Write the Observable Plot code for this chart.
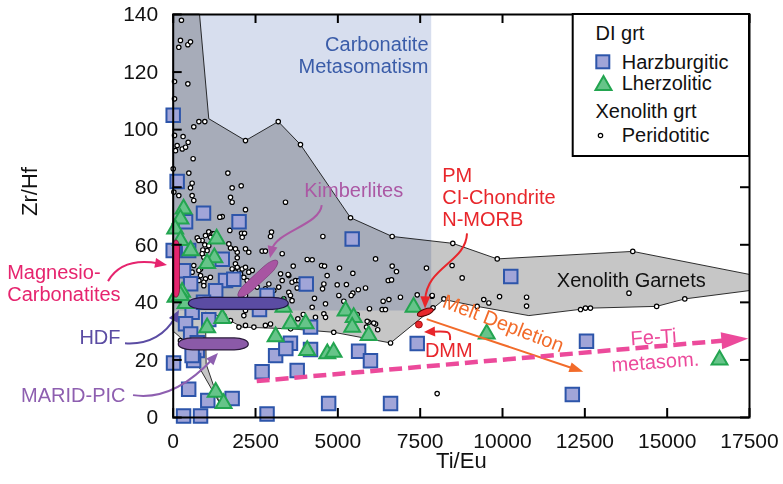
<!DOCTYPE html>
<html><head><meta charset="utf-8">
<script src="https://cdn.jsdelivr.net/npm/d3@7"></script>
<script src="https://cdn.jsdelivr.net/npm/@observablehq/plot@0.6"></script>
<style>
body{margin:0;background:#fff;font-family:"Liberation Sans",Arial,sans-serif;}
#wrap{position:relative;width:783px;height:484px;}
#legend{position:absolute;left:0;top:0;pointer-events:none;}
</style></head><body><div id="wrap"></div>
<script>
// ---------------- data ----------------
const xTicks = [0, 2500, 5000, 7500, 10000, 12500, 15000, 17500];
const yTicks = [0, 20, 40, 60, 80, 100, 120, 140];

// DI garnets, harzburgitic [Ti/Eu, Zr/Hf]
const harzburgitic = [
 [0,105],[120,82],[920,71],[2000,68],[5435,62],[375,68],[0,58],[470,58],[1490,55],[315,51],
 [530,46.5],[1590,47.6],[1840,48],[1290,44],[4040,46.4],[2850,42.4],[2620,37.5],[575,36.6],[920,40],
 [375,32.6],[1080,34],[4170,31.4],[530,29],[730,26],[730,23.3],[620,19.8],[10,18.9],[575,21.5],
 [3560,25.8],[3110,21.5],[3420,24],[2700,15.9],[3765,16.3],[4170,23.6],[5630,23],[5990,19.7],
 [470,9.8],[1050,5.9],[1790,6.6],[315,0.5],[830,0.5],[2850,1.2],[4720,4.9],[6600,4.9],
 [10250,49],[12550,26.5],[7410,25.7],[12120,8]
];
// DI garnets, lherzolitic
const lherzolitic = [
 [315,72.5],[220,69],[60,65.5],[220,61.5],[1320,62],[530,58],[1250,55.5],[1030,53.5],[270,43.5],
 [70,41.8],[375,39.6],[220,42.4],[3350,38.3],[5235,37],[5480,34.8],[5435,31.4],[5935,28.5],
 [3565,32.6],[4020,32.6],[1030,31.2],[3110,28.1],[4070,23.3],[4680,22.2],[4870,22.7],[1490,34.4],
 [7300,38.3],[9520,29],[16590,20],[1290,8.8],[1530,4.9]
];
// Xenolith garnets, peridotitic
const peridotitic = [
 [250,138],[220,131],[445,129.5],[525,130.5],[170,128.6],[40,116.7],[445,115.9],[40,110.7],[780,102.8],
 [960,102.8],[625,101],[40,98],[300,97.6],[120,94.5],[275,93.3],[375,93.9],[455,95.6],[70,92.7],[605,89.9],
 [0,86.4],[475,84.9],[1660,84.9],[575,81.4],[525,79.8],[1790,79.8],[2065,80.5],[20,78.3],[170,77.1],
 [575,77.1],[625,75.4],[1740,76.5],[1790,74.8],[3410,74.8],[2195,72.2],[1490,69.8],[1415,69.6],[1720,65],
 [2075,64],[2165,64],[2095,62.6],[2985,64.4],[2955,62.9],[1080,64.5],[1185,63.8],[980,63.2],[730,62.4],
 [880,61.5],[780,61.5],[960,60],[1080,59.7],[1030,58],[900,58.2],[1740,58.9],[1945,57.4],[2195,58.6],
 [2295,57.4],[2700,57.8],[2800,57.8],[3310,56.9],[1945,55.5],[1135,62.6],[1235,63.8],[1690,60.3],[1890,58.6],
 [930,55.7],[1030,53.9],[625,52.8],[830,51.6],[575,50.5],[830,49.3],[980,48.2],[930,47],[1130,48.7],
 [1890,53.4],[2095,51.6],[2195,52.2],[2400,51.1],[2245,47.6],[2450,47.6],[2550,45.3],[2095,43.5],
 [2195,42.4],[2800,44.7],[2905,46.4],[3055,44.1],[3205,45.3],[3310,47.6],[3260,49.9],[3510,49.3],
 [3610,47],[3510,43.5],[3560,42.4],[3360,41.2],[2955,41.2],[880,56.9],[1080,52.8],[780,51.1],[780,47.6],
 [930,45.8],[1790,51.6],[1945,52.2],[1890,50.5],[2045,49.9],[2295,50.5],[2145,48.7],[2245,45],[2400,45.8],
 [1535,35.4],[1995,31.4],[2195,32],[2450,31.4],[2800,32],[2955,32.5],[1740,33.7],[2145,35.4],[2195,37.2],
 [4545,62.9],[4070,54.9],[4220,54.8],[3645,52.6],[4505,52.8],[4595,52.6],[5050,51.9],[6145,55.1],
 [6650,52.6],[6780,50.7],[7690,51.9],[4675,49.3],[5455,50.1],[3490,49.7],[6530,47.6],[6630,47.8],
 [4575,46.4],[4535,44.7],[4980,46.1],[5260,46.2],[5840,45],[5620,44.4],[5455,43.2],[5405,42.4],
 [5030,42.4],[4290,41.4],[3610,40.6],[6900,41.8],[6550,41],[6375,40.4],[7410,42.6],[7860,42.1],
 [4625,39.5],[4220,38.3],[5960,37.8],[6345,37.5],[6445,37.5],[5180,40.4],[4575,36],[4625,34.8],
 [4320,34.8],[5585,35.8],[3950,35.8],[3785,34.3],[5940,33.1],[6145,32.5],[3715,47.6],[3765,45],
 [3815,47.6],[5890,33.4],[6090,32.8],[6210,30.5],[5870,31.4],[8015,8.3],
 [8470,52.8],[8775,48.5],[7865,42.4],[8220,41.2],[7890,38.1],[9430,41],[9585,39.8],[9910,42],
 [10730,41.8],[10730,38.7],[12370,37.5],[12520,38],[12670,38],[13840,43.2],[14680,38.6],[15535,41.2],
 [8490,60.5],[9840,55.1],[13955,57.7],[9230,38.6],[4875,29.6],[6600,25.9],[220,26.7],[5385,69.4],
 [6650,62.9],[2195,96.2],[3190,102.8],[3865,94.8],[3565,30.8]
];
// outline of the "Xenolith Garnets" field
const xenolithField = [
 [800,140],[1080,103.8],[2195,96.2],[3190,102.8],[3865,94.8],[5385,69.4],[6650,62.9],[8490,60.5],
 [9840,55.1],[13955,57.7],[17500,49.7],[17500,44.1],[15535,41.2],[14680,38.6],[12670,38],[10800,35.4],
 [9230,38.6],[8220,41],[6600,25.9],[4875,29.6],[3565,30.8],[2095,31.4],[1535,34.8],[980,36.6],
 [1000,18.6],[1400,5.2],[730,18.6],[200,28],[0,30],[0,140]
];
// carbonatite metasomatism field
const carbonatiteField = [{x1: 0, x2: 7850, y1: 37, y2: 140}];
// reference compositions (long axis end points)
const references = [
 {name: "magnesio", x1: 100, y1: 41.6, x2: 100, y2: 61.5},
 {name: "kimberlites", x1: 1993, y1: 41.8, x2: 3177, y2: 54.3},
 {name: "hdf", x1: 475, y1: 39.5, x2: 3510, y2: 39.5},
 {name: "marid", x1: 170, y1: 25.4, x2: 2295, y2: 25.4},
 {name: "pm", x1: 7430, y1: 35.4, x2: 7915, y2: 37.4}
];
const dmm = [[7460, 32.3]];
// annotation arrows: start, control 1, control 2, end
const arrows = [
 {name: "kimberlites", pts: [[4525,73.6],[4473,66.7],[3107,63.2],[2955,55.2]]},
 {name: "magnesio", pts: [[-1964,47.2],[-1661,53.1],[-993,54.5],[-173,52.8]]},
 {name: "hdf", pts: [[-1448,25.6],[-686,25.0],[-140,30.2],[191,37.2]]},
 {name: "marid", pts: [[-1205,7.6],[-234,5.9],[677,13.6],[1376,22.2]]},
 {name: "pm", pts: [[8937,63.8],[8907,53.7],[7692,50.9],[7662,37.7]]},
 {name: "dmm", pts: [[8421,26.7],[8451,29.9],[8269,29.9],[7631,29.5]]},
 {name: "melt", pts: [[7713,34.0],[7713,34.0],[12468,15.7],[12468,15.7]]},
 {name: "feti", pts: [[2551,12.5],[2551,12.5],[17480,27.3],[17480,27.3]]}
];
const labels = [
 {name: "carb", text: "Carbonatite\nMetasomatism", x: 7753, y: 126.1},
 {name: "kimb", text: "Kimberlites", x: 5480, y: 78.8},
 {name: "pm", text: "PM\nCI-Chondrite\nN-MORB", x: 8169, y: 76.7},
 {name: "xeno", text: "Xenolith Garnets", x: 13911, y: 47.6},
 {name: "melt", text: "Melt Depletion", x: 10020, y: 32.6},
 {name: "dmm", text: "DMM", x: 8369, y: 23.3},
 {name: "feti", text: "Fe-Ti\nmetasom.", x: 14610, y: 24.1},
 {name: "magnesio", text: "Magnesio-\nCarbonatites", x: -5041, y: 46.7},
 {name: "hdf", text: "HDF", x: -1600, y: 27.7},
 {name: "marid", text: "MARID-PIC", x: -1449, y: 7.6}
];

// ---------------- styles ----------------
const C = {
  magnesio: "#e6246e", kimb: "#ab58a4", hdf: "#5b4ca3", marid: "#8e5fb0", red: "#e8262b",
  melt: "#f26b2a", feti: "#ec4a9b", carb: "#3a5ca8"
};
const blobStyle = {
  magnesio: {t: 7, fill: C.magnesio, stroke: "#7a1030", sw: 0.8, round: 8},
  kimberlites: {t: 10, fill: "#a855a2", stroke: "#6a2a66", sw: 0.5, round: 14},
  hdf: {t: 12, fill: C.hdf, stroke: "#1e1640", sw: 1.2, round: 16},
  marid: {t: 12, fill: "#8b5aa8", stroke: "#2a1a3a", sw: 1.2, round: 14},
  pm: {t: 6.5, fill: C.red, stroke: "#5a0000", sw: 1, round: 99}
};
const arrowStyle = {
  kimberlites: {color: C.kimb, w: 2, head: 12, hw: 5},
  magnesio: {color: C.magnesio, w: 2, head: 12, hw: 5},
  hdf: {color: C.hdf, w: 2, head: 12, hw: 5},
  marid: {color: C.marid, w: 2, head: 12, hw: 5},
  pm: {color: C.red, w: 2, head: 12, hw: 5},
  dmm: {color: C.red, w: 2, head: 11, hw: 5},
  melt: {color: C.melt, w: 2, head: 14, hw: 5},
  feti: {color: C.feti, w: 4.5, head: 27, hw: 8.5, dash: "13,6"}
};
const labelStyle = {
  carb: {fill: C.carb, anchor: "end", lh: 1.1},
  kimb: {fill: C.kimb, anchor: "middle"},
  pm: {fill: C.red, anchor: "start", lh: 1.115},
  xeno: {fill: "#111", anchor: "middle"},
  melt: {fill: C.melt, anchor: "middle", rotate: 21},
  dmm: {fill: C.red, anchor: "middle"},
  feti: {fill: C.feti, anchor: "middle", rotate: -4, lh: 1.25},
  magnesio: {fill: C.magnesio, anchor: "start", lh: 1.08},
  hdf: {fill: C.hdf, anchor: "end"},
  marid: {fill: C.marid, anchor: "end"}
};

// ---------------- custom render helpers ----------------
function blobMark(items) {
  return (index, scales) => {
    const g = d3.create("svg:g");
    for (const b of items) {
      const s = blobStyle[b.name];
      const x1 = scales.x(b.x1), y1 = scales.y(b.y1), x2 = scales.x(b.x2), y2 = scales.y(b.y2);
      const len = Math.hypot(x2 - x1, y2 - y1), ang = Math.atan2(y2 - y1, x2 - x1) * 180 / Math.PI;
      const cx = (x1 + x2) / 2, cy = (y1 + y2) / 2;
      g.append("rect").attr("x", cx - len / 2).attr("y", cy - s.t / 2)
        .attr("width", len).attr("height", s.t)
        .attr("rx", Math.min(len / 2, s.round)).attr("ry", s.t / 2)
        .attr("transform", `rotate(${ang} ${cx} ${cy})`)
        .attr("fill", s.fill).attr("stroke", s.stroke).attr("stroke-width", s.sw);
    }
    return g.node();
  };
}
function arrowMark(items) {
  return (index, scales) => {
    const g = d3.create("svg:g");
    for (const a of items) {
      const s = arrowStyle[a.name];
      const p = a.pts.map(([x, y]) => [scales.x(x), scales.y(y)]);
      let dx = p[3][0] - p[2][0], dy = p[3][1] - p[2][1];
      if (Math.hypot(dx, dy) < 1) { dx = p[3][0] - p[0][0]; dy = p[3][1] - p[0][1]; }
      const L = Math.hypot(dx, dy); dx /= L; dy /= L;
      const base = [p[3][0] - dx * s.head, p[3][1] - dy * s.head];
      const end = [p[3][0] - dx * s.head * 0.7, p[3][1] - dy * s.head * 0.7];
      const c2 = [p[2][0] - dx * s.head * 0.3, p[2][1] - dy * s.head * 0.3];
      g.append("path").attr("d", `M${p[0]}C${p[1]} ${c2} ${end}`)
        .attr("fill", "none").attr("stroke", s.color).attr("stroke-width", s.w)
        .attr("stroke-dasharray", s.dash || null);
      g.append("path").attr("d",
        `M${p[3]}L${base[0] - dy * s.hw},${base[1] + dx * s.hw}L${base[0] + dy * s.hw},${base[1] - dx * s.hw}Z`)
        .attr("fill", s.color);
    }
    return g.node();
  };
}

const FONT = "Liberation Sans, Arial, Helvetica, sans-serif";
const plotH = 484 - 14 - 67, plotW = 783 - 172.7 - 34;

const labelMarks = labels.map(l => {
  const s = labelStyle[l.name];
  return Plot.text([l], {x: "x", y: "y", text: "text", fill: s.fill, textAnchor: s.anchor,
    rotate: s.rotate || 0, lineHeight: s.lh || 1, fontSize: 20, fontFamily: FONT});
});

const chart = Plot.plot({
  width: 783, height: 484,
  marginLeft: 172.7, marginRight: 34, marginTop: 14, marginBottom: 67,
  x: {domain: [0, 17500], axis: null},
  y: {domain: [0, 140], axis: null},
  style: {fontFamily: FONT, background: "white", overflow: "visible"},
  marks: [
    Plot.rect(carbonatiteField, {x1: "x1", x2: "x2", y1: "y1", y2: "y2", fill: "#d7deee"}),
    Plot.line(xenolithField, {x: d => d[0], y: d => d[1], curve: "linear-closed", fill: "#c6c6c6",
      stroke: "#1a1a1a", strokeWidth: 0.9, mixBlendMode: "multiply"}),
    Plot.dot(peridotitic, {x: d => d[0], y: d => d[1], r: 2.2, fill: "white", stroke: "#000", strokeWidth: 1.2}),
    Plot.dot(harzburgitic, {x: d => d[0], y: d => d[1], symbol: "square", r: 7.6,
      fill: "#a1a5d8", stroke: "#2d55aa", strokeWidth: 2}),
    Plot.dot(lherzolitic, {x: d => d[0], y: d => d[1], symbol: "triangle", r: 5.9,
      fill: "#66c489", stroke: "#23a550", strokeWidth: 2}),
    blobMark(references),
    Plot.dot(dmm, {x: d => d[0], y: d => d[1], r: 3.5, fill: C.red, stroke: "#900", strokeWidth: 0.8}),
    arrowMark(arrows),
    ...labelMarks,
    Plot.frame({stroke: "#000", strokeWidth: 2}),
    Plot.ruleX(xTicks, {x: d => d, insetTop: plotH - 9, stroke: "#000", strokeWidth: 2}),
    Plot.ruleX(xTicks, {x: d => d, insetBottom: plotH - 9, stroke: "#000", strokeWidth: 2}),
    Plot.ruleY(yTicks, {y: d => d, insetRight: plotW - 9, stroke: "#000", strokeWidth: 2}),
    Plot.ruleY(yTicks, {y: d => d, insetLeft: plotW - 9, stroke: "#000", strokeWidth: 2}),
    Plot.text(xTicks, {x: d => d, y: 0, dy: 24, text: d => String(d), fontSize: 21, fill: "#111", fontFamily: FONT}),
    Plot.text(yTicks, {x: 0, y: d => d, dx: -15, textAnchor: "end", text: d => String(d), fontSize: 21, fill: "#111", fontFamily: FONT}),
    Plot.text(["Zr/Hf"], {frameAnchor: "left", dx: -143, rotate: -90, text: d => d, fontSize: 22, fill: "#111", fontFamily: FONT}),
    Plot.text(["Ti/Eu"], {frameAnchor: "bottom", dy: 50, text: d => d, fontSize: 22, fill: "#111", fontFamily: FONT})
  ]
});
const wrap = document.getElementById("wrap");
wrap.appendChild(chart);

// legend (inside the top-right corner of the frame)
const fs = 20, bl = 0.358 * fs;
wrap.insertAdjacentHTML("beforeend", `
<svg id="legend" width="783" height="484" font-family="${FONT}" font-size="${fs}" fill="#111">
  <rect x="572.7" y="14" width="176.3" height="142" fill="white" stroke="#000" stroke-width="2"/>
  <text x="595.5" y="${33 + bl}">DI grt</text>
  <rect x="596.3" y="55.3" width="13" height="13" fill="#a1a5d8" stroke="#2d55aa" stroke-width="2"/>
  <text x="621.7" y="${62 + bl}">Harzburgitic</text>
  <path d="M595.5,90 L611.5,90 L603.5,76 Z" fill="#66c489" stroke="#23a550" stroke-width="2"/>
  <text x="621.7" y="${82.5 + bl}">Lherzolitic</text>
  <text x="595.5" y="${111 + bl}">Xenolith grt</text>
  <circle cx="600.5" cy="135.5" r="2.2" fill="white" stroke="#000" stroke-width="1.2"/>
  <text x="621.7" y="${135 + bl}">Peridotitic</text>
</svg>`);
</script></body></html>
